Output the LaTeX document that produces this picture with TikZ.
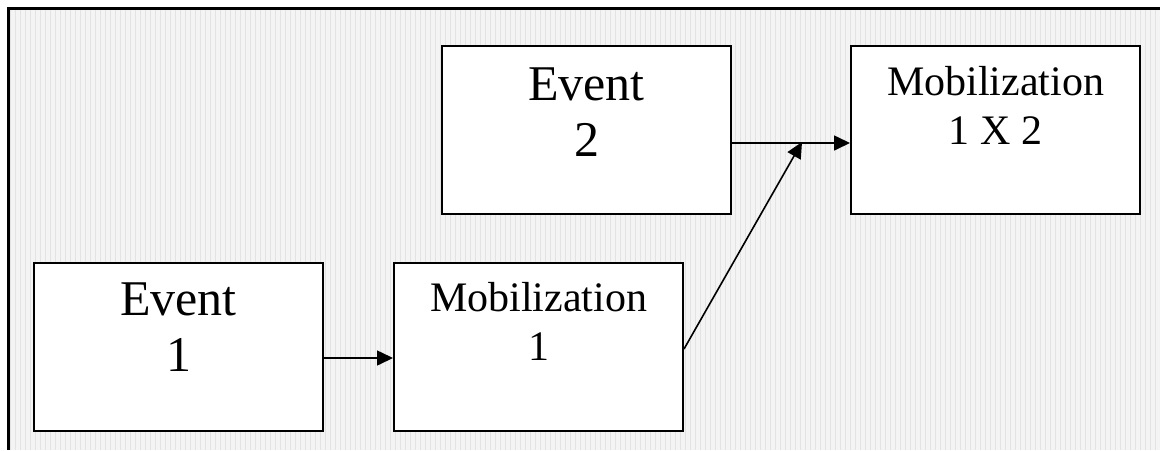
\documentclass[tikz,border=0pt]{standalone}
\usepackage{fontspec}
\setmainfont{Liberation Serif}
\usetikzlibrary{positioning,arrows.meta}

\tikzset{
  box/.style={draw, line width=1pt, fill=white, anchor=north west,
    minimum width=144.5pt, minimum height=84pt, inner sep=0pt},
  bigtext/.style={font=\fontsize{25}{28}\selectfont, align=center, inner sep=0pt},
  smalltext/.style={font=\fontsize{21}{24.5}\selectfont, align=center, inner sep=0pt},
  link/.style={line width=0.8pt, -{Triangle[length=8pt,width=7.5pt]}}
}

\begin{document}
\begin{tikzpicture}[x=0.5pt,y=-0.5pt]
\useasboundingbox (0,0) rectangle (1160,450);

% background with fine grid
\fill[gray!9] (8,8) rectangle (1160,450);
\draw[gray!22, line width=0.3pt, step=5] (8,8) grid (1160,450);
\draw[line width=1.5pt] (8,450) -- (8,8) -- (1160,8);

\node[box] (e1) at (33,262) {};
\node[box] (m1) at (393,262) {};
\node[box] (e2) at (441,45) {};
\node[box] (m12) at (850,45) {};

\node[bigtext, below=10pt of e1.north] (e1txt) {Event\\1};
\node[smalltext, below=10pt of m1.north] (m1txt) {Mobilization\\1};
\node[bigtext, below=11pt of e2.north] (e2txt) {Event\\2};
\node[smalltext, below=10.5pt of m12.north] (m12txt) {Mobilization\\1 X 2};

\coordinate (j) at (802,142);

\draw[link] ([yshift=-5.5pt]e1.east) -- ([yshift=-5.5pt]m1.west);
\draw[link] ([yshift=-6.5pt]e2.east) -- ([yshift=-6.5pt]m12.west);
\draw[link] ([yshift=-1pt]m1.east) -- (j);

\end{tikzpicture}
\end{document}
